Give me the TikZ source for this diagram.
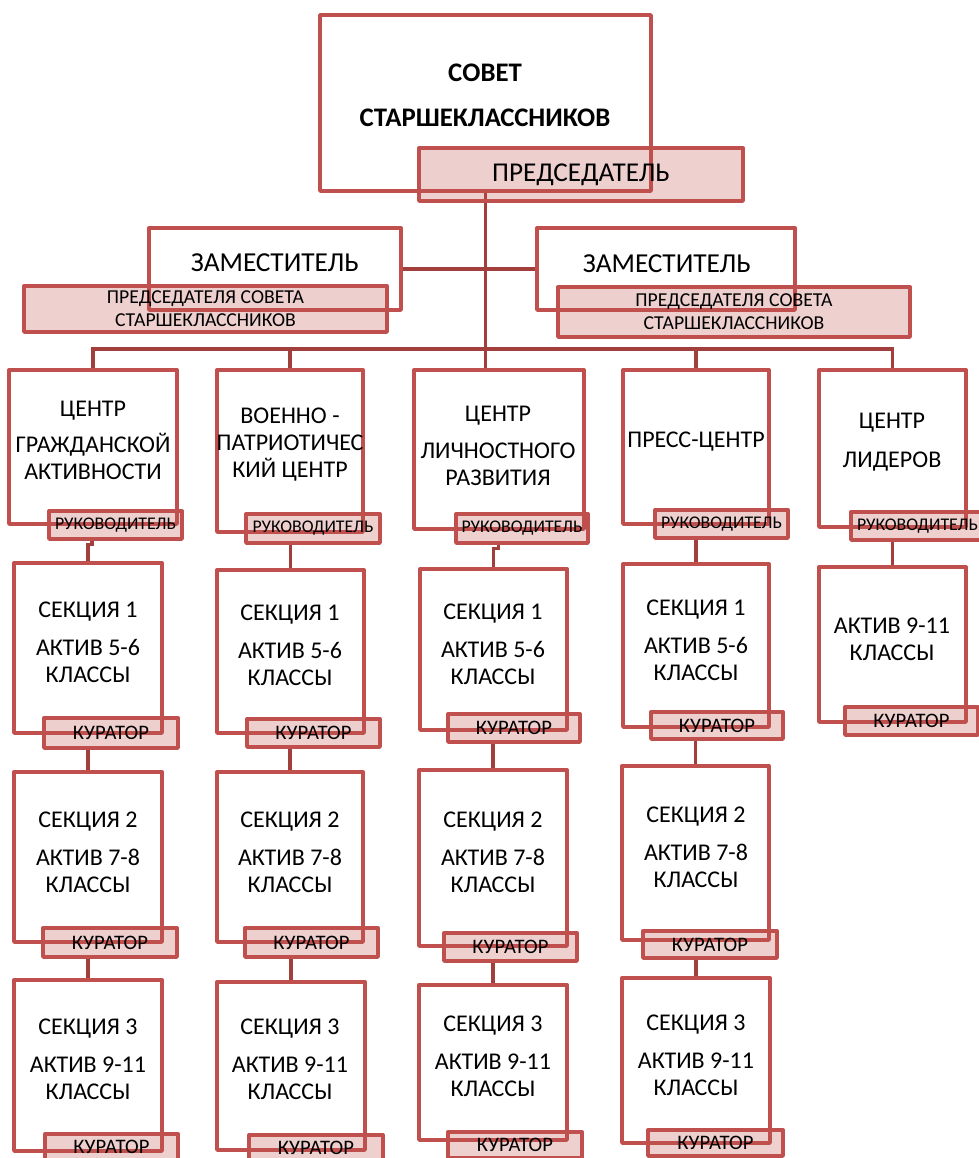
\documentclass[tikz,border=0pt]{standalone}
\usepackage{fontspec}
\setmainfont{Carlito}
\usetikzlibrary{fit,calc}
\definecolor{boxred}{HTML}{C0504D}
\definecolor{linered}{HTML}{A23F3D}
\newcommand\bx[5]{\node[box,fit={(#2,#3)(#4,#5)}] (#1) {};}
\newcommand\lb[7]{\node[lab,fit={(#2,#3)(#4,#5)}] (#1) {};\node[#6] (#1t) at (#1.center) {#7};}
\begin{document}
\begin{tikzpicture}[x=0.5pt,y=-0.5pt,
  box/.style={draw=boxred,line width=1.7pt,fill=white,inner sep=0pt,line join=round},
  lab/.style={draw=boxred,line width=1.7pt,fill=boxred,fill opacity=0.27,draw opacity=1,inner sep=0pt,line join=round},
  conn/.style={draw=linered,line width=1.6pt},
  txt/.style={align=center,inner sep=0pt,font=\fontsize{12}{13.5}\selectfont},
  big/.style={align=center,inner sep=0pt,font=\bfseries\fontsize{13.4}{22.5}\selectfont},
  zam/.style={inner sep=0pt,font=\fontsize{13.7}{16}\selectfont},
  predtxt/.style={inner sep=0pt,font=\fontsize{13.6}{16}\selectfont},
  deptxt/.style={inner sep=0pt,align=center,font=\fontsize{9.85}{11.5}\selectfont},
  rukt/.style={inner sep=0pt,font=\fontsize{8.9}{10}\selectfont},
  kurt/.style={inner sep=0pt,font=\fontsize{10.3}{11}\selectfont}
]
\useasboundingbox (0,0) rectangle (979,1158);
% ---------- boxes ----------
\bx{sov}{320}{15}{651}{191}
\bx{zl}{149}{228}{401}{310}
\bx{zr}{537}{228}{795}{310}
\bx{c1}{9}{370}{177}{524}
\bx{c2}{217}{370}{363}{532}
\bx{c3}{414}{370}{584}{529}
\bx{c4}{623}{370}{769}{524}
\bx{c5}{819}{370}{966}{527}
\bx{s11}{14}{563}{162}{733}
\bx{s12}{14}{772}{162}{942}
\bx{s13}{14}{980}{162}{1151}
\bx{s21}{217}{570}{364}{733}
\bx{s22}{217}{772}{363}{942}
\bx{s23}{217}{982}{365}{1150}
\bx{s31}{420}{569}{567}{730}
\bx{s32}{419}{770}{567}{946}
\bx{s33}{419}{985}{567}{1140}
\bx{s41}{623}{564}{769}{727}
\bx{s42}{622}{766}{769}{940}
\bx{s43}{622}{978}{770}{1143}
\bx{s51}{819}{567}{966}{722}
% ---------- connectors ----------
\coordinate (bus) at (486,349);
\draw[conn] (sov.south) -- (sov.south |- c3.north);
\draw[conn] (zl.east) -- (zl.east -| zr.west);
\draw[conn] (c1.north) -- (c1.north |- bus) -| (c5.north);
\draw[conn] (c2.north) -- (c2.north |- bus);
\draw[conn] (c4.north) -- (c4.north |- bus);
% ---------- labels ----------
\lb{pred}{419}{148}{743}{201}{predtxt}{ПРЕДСЕДАТЕЛЬ}
\lb{zll}{24}{286}{387}{332}{deptxt}{ПРЕДСЕДАТЕЛЯ СОВЕТА\\СТАРШЕКЛАССНИКОВ}
\lb{zrl}{558}{287}{910}{337}{deptxt}{ПРЕДСЕДАТЕЛЯ СОВЕТА\\СТАРШЕКЛАССНИКОВ}
\lb{r1}{49}{511}{182}{539}{rukt}{РУКОВОДИТЕЛЬ}
\lb{r2}{246}{514}{380}{543}{rukt}{РУКОВОДИТЕЛЬ}
\lb{r3}{456}{514}{588}{543}{rukt}{РУКОВОДИТЕЛЬ}
\lb{r4}{655}{510}{788}{538}{rukt}{РУКОВОДИТЕЛЬ}
\lb{r5}{851}{512}{984}{540}{rukt}{РУКОВОДИТЕЛЬ}
% connectors between centres and sections
\draw[conn] (s11.north) -- ++(0,-17) -| ([xshift=2pt]s11.north |- r1.south);
\draw[conn] (r2.south -| s21.north) -- (s21.north);
\draw[conn] (s31.north) -- ++(0,-19) -| ([xshift=2.5pt]s31.north |- r3.south);
\draw[conn] (r4.south -| s41.north) -- (s41.north);
\draw[conn] (r5.south -| s51.north) -- (s51.north);
\lb{k11}{44}{718}{178}{748}{kurt}{КУРАТОР}
\lb{k12}{43}{928}{177}{957}{kurt}{КУРАТОР}
\lb{k13}{45}{1134}{178}{1160}{kurt}{КУРАТОР}
\lb{k21}{247}{719}{380}{747}{kurt}{КУРАТОР}
\lb{k22}{245}{928}{378}{957}{kurt}{КУРАТОР}
\lb{k23}{249}{1135}{383}{1161}{kurt}{КУРАТОР}
\lb{k31}{448}{714}{580}{742}{kurt}{КУРАТОР}
\lb{k32}{444}{933}{577}{961}{kurt}{КУРАТОР}
\lb{k33}{448}{1132}{582}{1158}{kurt}{КУРАТОР}
\lb{k41}{651}{712}{783}{739}{kurt}{КУРАТОР}
\lb{k42}{643}{931}{777}{958}{kurt}{КУРАТОР}
\lb{k43}{648}{1130}{783}{1156}{kurt}{КУРАТОР}
\lb{k51}{845}{707}{978}{735}{kurt}{КУРАТОР}
% section-to-section connectors
\draw[conn] (k11.south -| s12.north) -- (s12.north);
\draw[conn] (k12.south -| s13.north) -- (s13.north);
\draw[conn] (k21.south -| s22.north) -- (s22.north);
\draw[conn] (k22.south -| s23.north) -- (s23.north);
\draw[conn] (k31.south -| s32.north) -- (s32.north);
\draw[conn] (k32.south -| s33.north) -- (s33.north);
\draw[conn] (k41.south -| s42.north) -- (s42.north);
\draw[conn] (k42.south -| s43.north) -- (s43.north);
% ---------- texts ----------
\node[big] (tsov) at (485,95.5) {СОВЕТ\\СТАРШЕКЛАССНИКОВ};
\node[zam] (tzl) at (275,263) {ЗАМЕСТИТЕЛЬ};
\node[zam] (tzr) at (667,264) {ЗАМЕСТИТЕЛЬ};
\node[txt] (tc1) at (93,440.5) {ЦЕНТР\\[4.5pt]ГРАЖДАНСКОЙ\\АКТИВНОСТИ};
\node[txt] (tc2) at (290,445) {ВОЕННО -\\ПАТРИОТИЧЕС\\КИЙ ЦЕНТР};
\node[txt] (tc3) at (498,445.5) {ЦЕНТР\\[5pt]ЛИЧНОСТНОГО\\РАЗВИТИЯ};
\node[txt] (tc4) at (696,442) {ПРЕСС-ЦЕНТР};
\node[txt] (tc5) at (892,442.5) {ЦЕНТР\\[6pt]ЛИДЕРОВ};
\node[txt] (ts11) at (88,642.5) {СЕКЦИЯ 1\\[5.5pt]АКТИВ 5-6\\КЛАССЫ};
\node[txt] (ts12) at (88,852) {СЕКЦИЯ 2\\[5.5pt]АКТИВ 7-8\\КЛАССЫ};
\node[txt] (ts13) at (88,1059) {СЕКЦИЯ 3\\[5.5pt]АКТИВ 9-11\\КЛАССЫ};
\node[txt] (ts21) at (290,645.5) {СЕКЦИЯ 1\\[5.5pt]АКТИВ 5-6\\КЛАССЫ};
\node[txt] (ts22) at (290,852) {СЕКЦИЯ 2\\[5.5pt]АКТИВ 7-8\\КЛАССЫ};
\node[txt] (ts23) at (290,1059.5) {СЕКЦИЯ 3\\[5.5pt]АКТИВ 9-11\\КЛАССЫ};
\node[txt] (ts31) at (493,644.5) {СЕКЦИЯ 1\\[5.5pt]АКТИВ 5-6\\КЛАССЫ};
\node[txt] (ts32) at (493,852) {СЕКЦИЯ 2\\[5.5pt]АКТИВ 7-8\\КЛАССЫ};
\node[txt] (ts33) at (493,1056) {СЕКЦИЯ 3\\[5.5pt]АКТИВ 9-11\\КЛАССЫ};
\node[txt] (ts41) at (696,640) {СЕКЦИЯ 1\\[5.5pt]АКТИВ 5-6\\КЛАССЫ};
\node[txt] (ts42) at (696,847.5) {СЕКЦИЯ 2\\[5.5pt]АКТИВ 7-8\\КЛАССЫ};
\node[txt] (ts43) at (696,1055.5) {СЕКЦИЯ 3\\[5.5pt]АКТИВ 9-11\\КЛАССЫ};
\node[txt] (ts51) at (892,639) {АКТИВ 9-11\\КЛАССЫ};
\end{tikzpicture}
\end{document}
